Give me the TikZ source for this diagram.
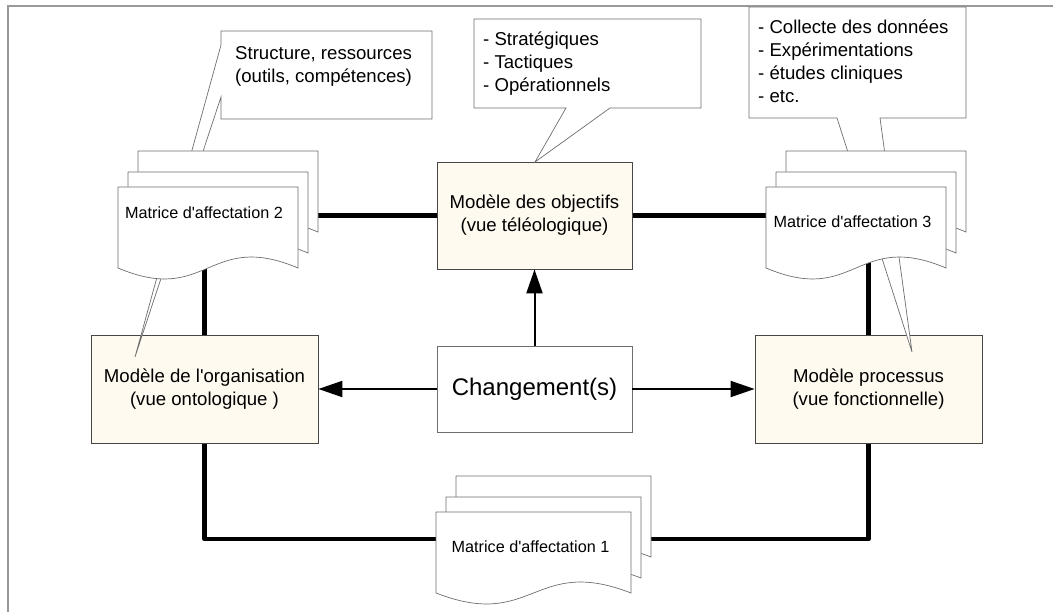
\documentclass[tikz,border=0pt]{standalone}
\usepackage{fontspec}
\setmainfont{Liberation Sans}
\usepackage{xcolor}
\usetikzlibrary{arrows.meta, positioning, backgrounds}
\definecolor{modelfill}{RGB}{255,250,240}
\definecolor{framegray}{RGB}{153,153,153}
\definecolor{edgegray}{RGB}{70,70,70}
\definecolor{boxgray}{RGB}{110,110,110}

\begin{document}
\begin{tikzpicture}[x=1pt, y=-1pt,
    model/.style={draw=edgegray, fill=modelfill, line width=0.8pt, align=center,
      font=\fontsize{18.6}{23}\selectfont, minimum width=227pt, minimum height=108pt},
    chgbox/.style={draw=boxgray, fill=white, line width=0.8pt, minimum width=195pt,
      minimum height=86pt, font=\fontsize{24}{28}\selectfont},
    bubble/.style={draw=boxgray, fill=white, line width=0.7pt},
    bubbletext/.style={anchor=north west, inner sep=0pt, align=left,
      font=\fontsize{18.6}{23}\selectfont},
    page/.style={draw=boxgray, fill=white, line width=0.7pt},
    mtext/.style={inner sep=0pt, font=\fontsize{16.2}{19}\selectfont},
    link/.style={line width=4.5pt, line cap=round, line join=round},
    flow/.style={line width=2pt, -{Triangle[length=24pt, width=16pt]}}]

    % cadre
    \useasboundingbox (0,0) rectangle (1053,612);
    \draw[framegray, line width=2pt] (8,612) -- (8,6) -- (1053,6);

    % modeles
    \node[model] (org) at (204.5,389) {Modèle de l\textquotesingle organisation\\(vue ontologique )};
    \node[model, minimum width=195pt, minimum height=107pt] (obj) at (534.5,215.5) {Modèle des objectifs\\(vue téléologique)};
    \node[model] (proc) at (868.5,389) {Modèle processus\\(vue fonctionnelle)};
    \node[chgbox] (chg) at (534.5,389) {Changement(s)};

    % bulles
    \filldraw[bubble] (221,31) -- (432,31) -- (432,119) -- (221,119) -- (221,97) -- (135,357) -- (221,45) -- cycle;
    \node[bubbletext] (note1) at (235,43) {\strut Structure, ressources\\(outils, compétences)};

    \filldraw[bubble] (474,19) -- (701,19) -- (701,108) -- (610,108) -- (535,162) -- (566,108) -- (474,108) -- cycle;
    \node[bubbletext] (note2) at (483,29) {\strut - Stratégiques\\- Tactiques\\- Opérationnels};

    \filldraw[bubble] (749,7) -- (966,7) -- (966,118) -- (880,118) -- (912,352) -- (837,118) -- (749,118) -- cycle;
    \node[bubbletext] (note3) at (758,17) {\strut - Collecte des données\\- Expérimentations\\- études cliniques\\- etc.};

    % matrices (trois feuilles)
    \foreach \mx/\my/\mw in {118/187/180, 766/187/180, 436/512/195}
      \foreach \dx/\dy in {20/-36, 10/-15, 0/0}
        \filldraw[page] ({\mx+\dx},{\my+\dy+81}) -- ({\mx+\dx},{\my+\dy})
          -- ({\mx+\dx+\mw},{\my+\dy}) -- ({\mx+\dx+\mw},{\my+\dy+81})
          .. controls ({\mx+\dx+\mw/2},{\my+\dy+43}) and ({\mx+\dx+\mw/2},{\my+\dy+119}) .. ({\mx+\dx},{\my+\dy+81}) -- cycle;

    \node[mtext] (m2) at (204,213) {Matrice d\textquotesingle affectation 2};
    \node[mtext] (m3) at (852.5,222) {Matrice d\textquotesingle affectation 3};
    \node[mtext] (m1) at (530.5,547) {Matrice d\textquotesingle affectation 1};

    % liens
    \begin{pgfonlayer}{background}
      \draw[link] (obj.west) -- (m2 |- obj.west);
      \draw[link] (obj.east) -- (m3 |- obj.east);
      \draw[link] (org.north) -- (org.north |- m2);
      \draw[link] (proc.north) -- (proc.north |- m3);
      \draw[link] (org.south) |- ([yshift=8pt]m1.center);
      \draw[link] ([yshift=8pt]m1.center) -| (proc.south);
    \end{pgfonlayer}

    % changements
    \draw[flow] (chg.north) -- (obj.south);
    \draw[flow] (chg.west) -- (org.east);
    \draw[flow] (chg.east) -- (proc.west);
\end{tikzpicture}
\end{document}
